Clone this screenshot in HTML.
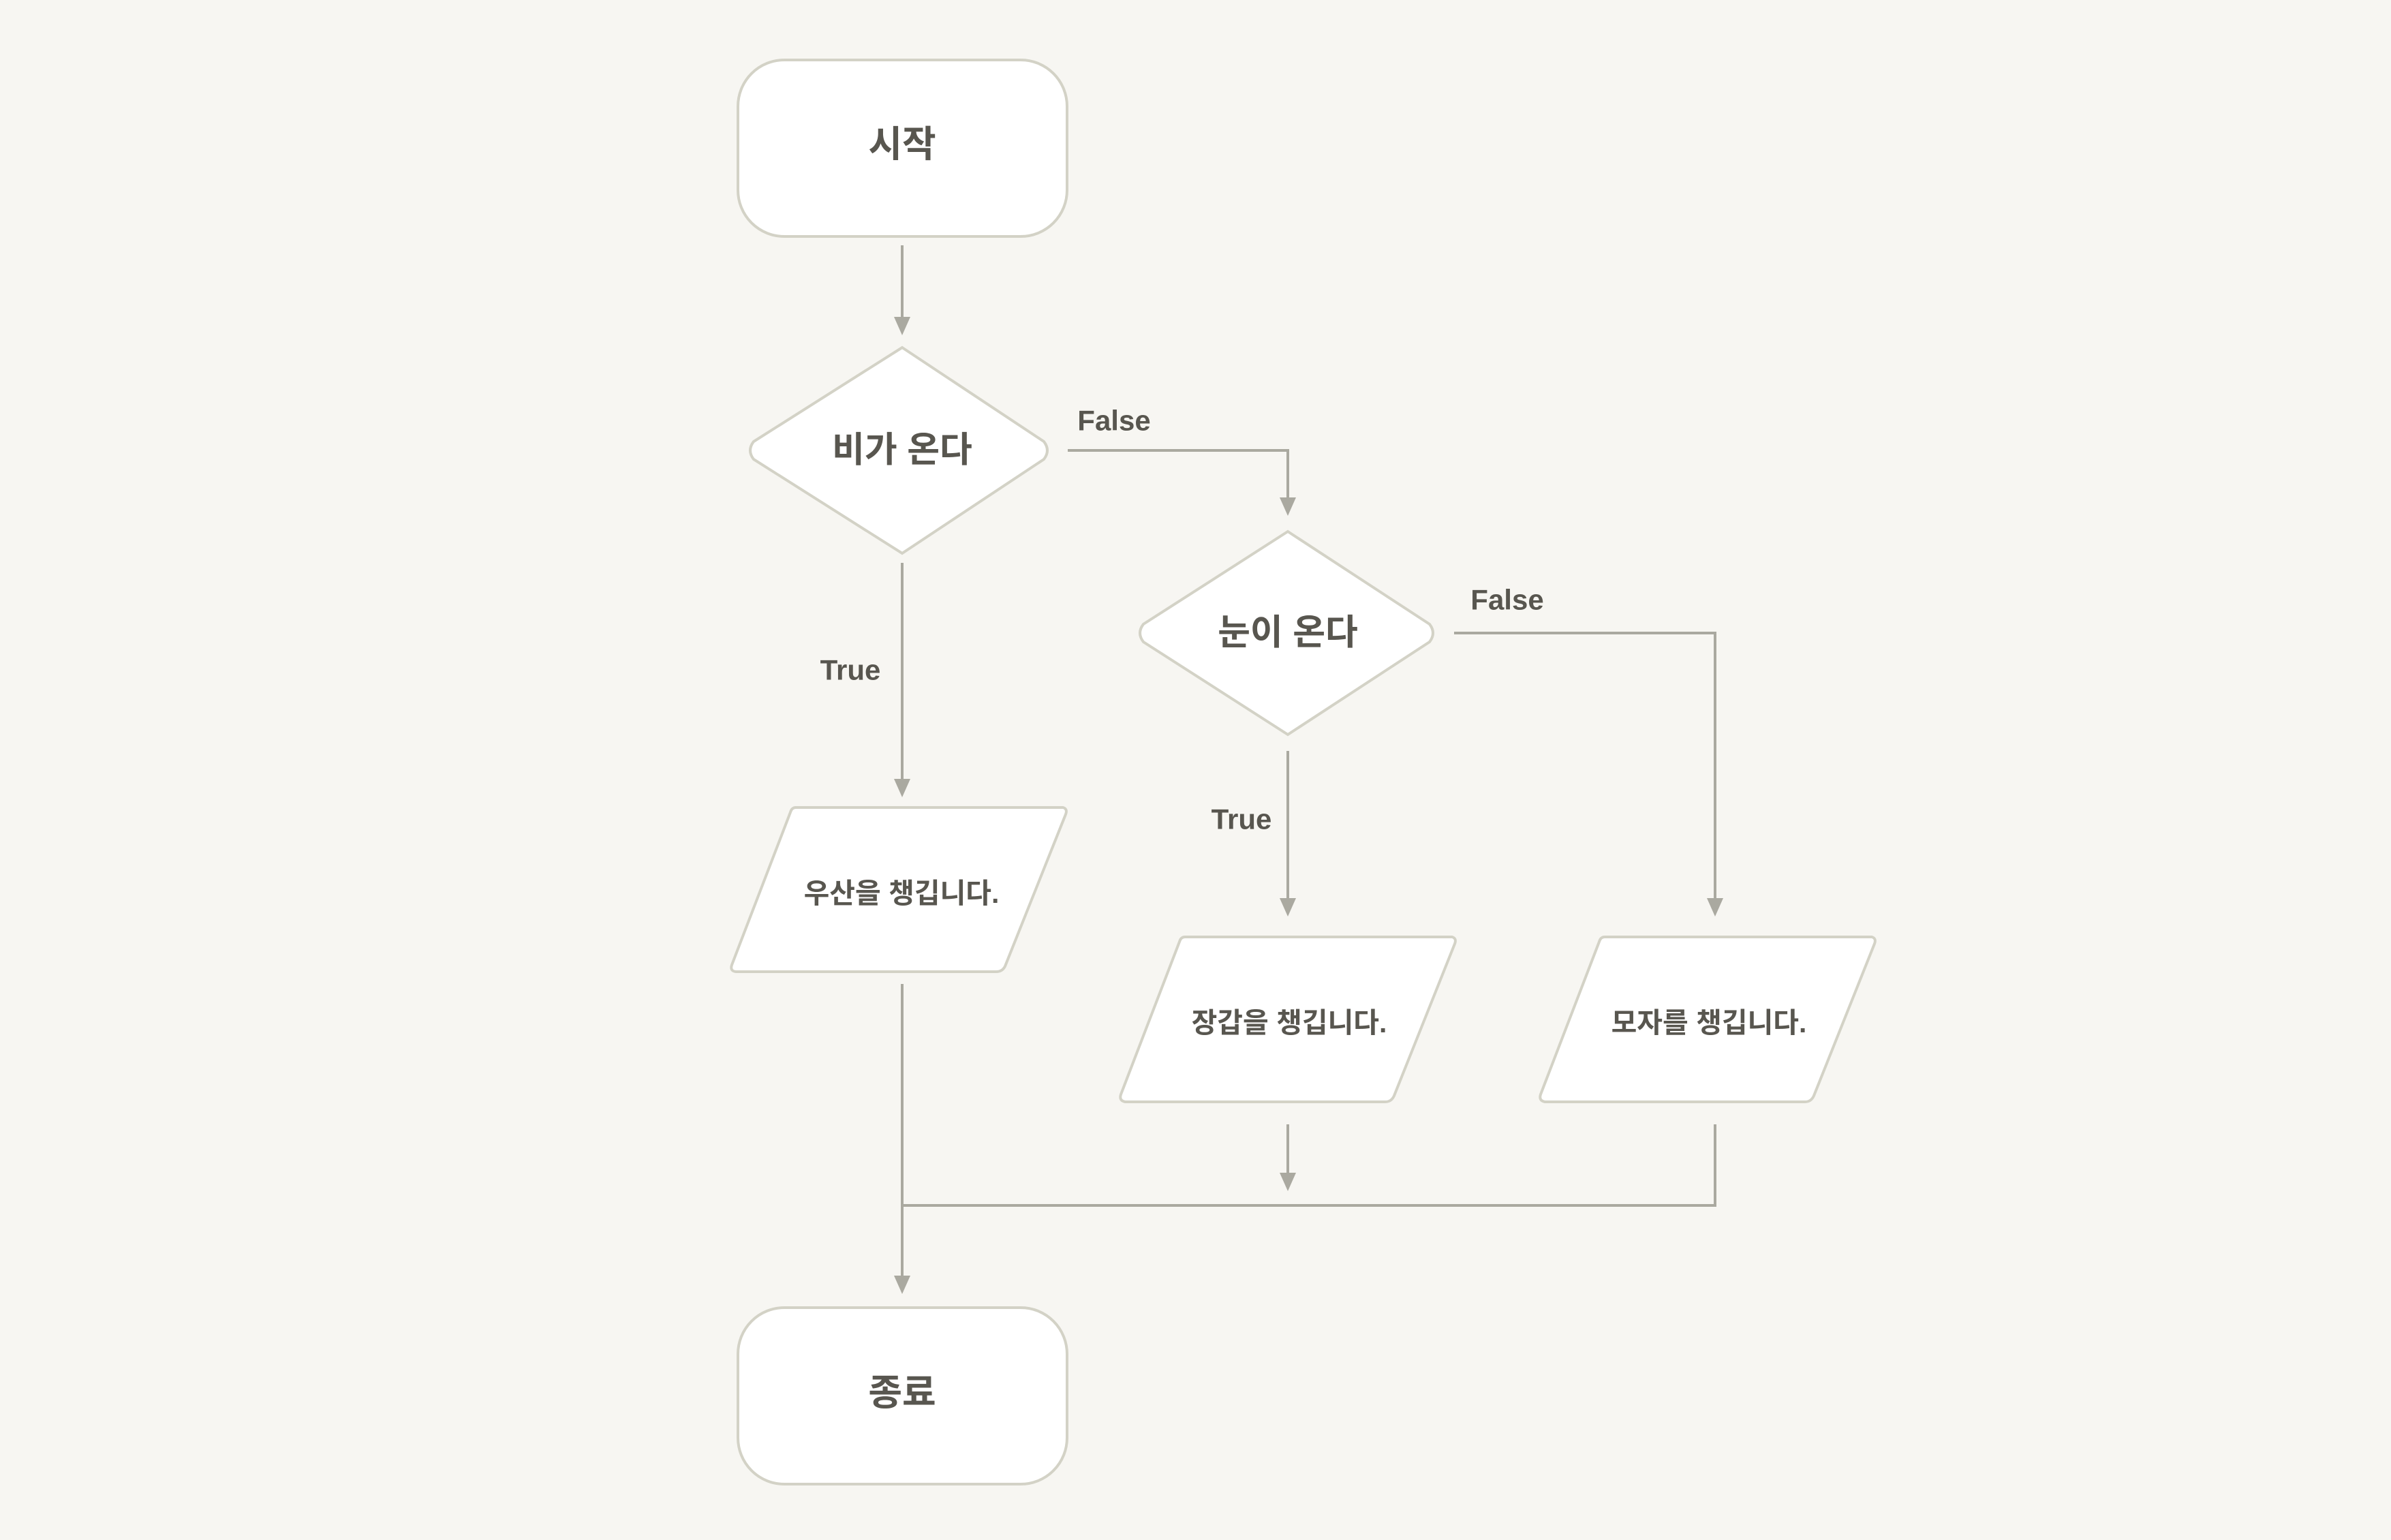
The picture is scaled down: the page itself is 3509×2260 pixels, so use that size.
<!DOCTYPE html>
<html><head><meta charset="utf-8"><style>
html,body{margin:0;padding:0;background:#f7f6f2;}
svg{display:block;}
text{font-family:"Liberation Sans","Noto Sans CJK KR",sans-serif;font-weight:bold;fill:#58564f;text-anchor:middle;dominant-baseline:central;}
.s{fill:#fff;stroke:#d3d2c6;stroke-width:4;}
.l{fill:none;stroke:#aaa9a0;stroke-width:4;}
.a{fill:#aaa9a0;}
</style></head><body>
<svg width="3509" height="2260" viewBox="0 0 3509 2260" xmlns="http://www.w3.org/2000/svg">
<rect width="3509" height="2260" fill="#f7f6f2"/>
<rect class="s" x="1083" y="88" width="483" height="259" rx="68"/>
<text x="1324" y="212" font-size="54">시작</text>
<line class="l" x1="1324" y1="360" x2="1324" y2="470"/>
<polygon class="a" points="1312,465 1336,465 1324,492"/>
<path class="s" d="M1324,510 L1532,648 Q1542,661 1532,674 L1324,812 L1106,674 Q1096,661 1106,648 Z"/>
<text x="1324" y="661" font-size="52">비가 온다</text>
<polyline class="l" points="1567,661 1890,661 1890,735"/>
<polygon class="a" points="1878,730 1902,730 1890,757"/>
<text x="1635" y="617" font-size="42">False</text>
<line class="l" x1="1324" y1="826" x2="1324" y2="1148"/>
<polygon class="a" points="1312,1143 1336,1143 1324,1170"/>
<text x="1248" y="983" font-size="42">True</text>
<path class="s" d="M1890,780 L2098,916 Q2108,929 2098,942 L1890,1078 L1678,942 Q1668,929 1678,916 Z"/>
<text x="1890" y="929" font-size="52">눈이 온다</text>
<polyline class="l" points="2134,929 2517,929 2517,1323"/>
<polygon class="a" points="2505,1318 2529,1318 2517,1345"/>
<text x="2212" y="880" font-size="42">False</text>
<line class="l" x1="1890" y1="1102" x2="1890" y2="1323"/>
<polygon class="a" points="1878,1318 1902,1318 1890,1345"/>
<text x="1822" y="1202" font-size="42">True</text>
<path class="s" d="M1168,1185 L1560,1185 Q1567,1187 1564,1195 L1475,1418 Q1471,1426 1462,1426 L1080,1426 Q1071,1425 1074,1416 L1160,1192 Q1162,1185 1168,1185 Z"/>
<text x="1323" y="1311" font-size="41">우산을 챙깁니다.</text>
<path class="s" d="M1739,1375 L2131,1375 Q2138,1377 2135,1385 L2046,1608 Q2042,1617 2033,1617 L1651,1617 Q1642,1615 1645,1606 L1731,1382 Q1733,1375 1739,1375 Z"/>
<text x="1892" y="1501" font-size="41">장갑을 챙깁니다.</text>
<path class="s" d="M2355,1375 L2747,1375 Q2754,1377 2751,1385 L2662,1608 Q2658,1617 2649,1617 L2267,1617 Q2258,1615 2261,1606 L2347,1382 Q2349,1375 2355,1375 Z"/>
<text x="2508" y="1501" font-size="41">모자를 챙깁니다.</text>
<line class="l" x1="1324" y1="1444" x2="1324" y2="1877"/>
<polygon class="a" points="1312,1872 1336,1872 1324,1899"/>
<line class="l" x1="1890" y1="1650" x2="1890" y2="1726"/>
<polygon class="a" points="1878,1721 1902,1721 1890,1748"/>
<polyline class="l" points="2517,1650 2517,1769 1324,1769"/>
<rect class="s" x="1083" y="1919" width="483" height="259" rx="68"/>
<text x="1324" y="2044" font-size="54">종료</text>
</svg>
</body></html>
